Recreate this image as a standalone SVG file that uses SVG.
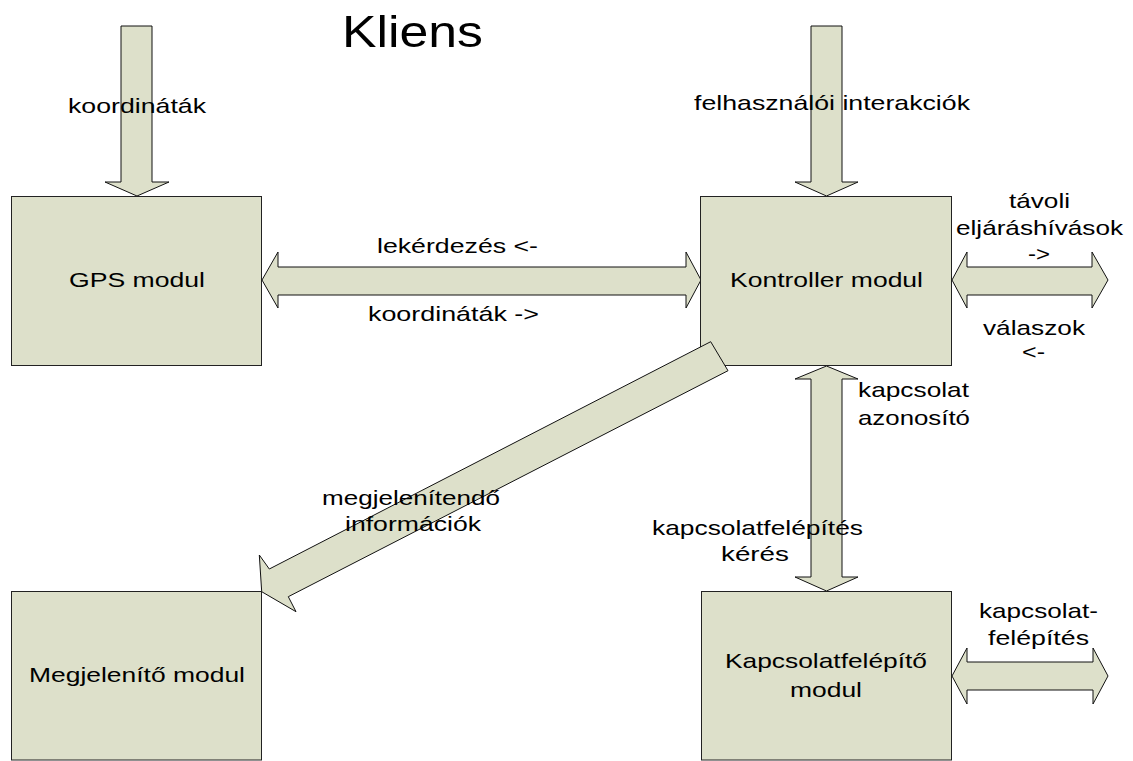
<svg xmlns="http://www.w3.org/2000/svg" width="1133" height="761" viewBox="0 0 1133 761">
<style>
.box{fill:#dde0ca;stroke:#222;stroke-width:1}
.arr{fill:#dde0ca;stroke:#111;stroke-width:1;stroke-linejoin:miter}
text{font-family:"Liberation Sans",Arial,sans-serif;font-size:21px;fill:#000}
.title{font-size:45px}
</style>
<rect width="1133" height="761" fill="#fff"/>
<g id="connectors">
<polygon class="arr" points="121,26 152,26 152,182 169,182 137,196 105,182 121,182"/>
<polygon class="arr" points="811,26 842,26 842,182 858,182 826.5,196 795,182 811,182"/>
<polygon class="arr" points="262,280 278,252 278,267 686,267 686,252 701,280 686,308 686,295 278,295 278,308"/>
<polygon class="arr" points="952,280 967,252 967,267 1092,267 1092,252 1108,280 1092,308 1092,295 967,295 967,308"/>
<polygon class="arr" points="826.5,366 858,379 842,379 842,577 858,577 826.5,591 795,577 811,577 811,379 795,379"/>
<polygon class="arr" points="952,676 967,648 967,662 1093,662 1093,648 1108,676 1093,704 1093,690 967,690 967,704"/>
</g>
<g id="gps"><rect class="box" x="11.5" y="196.5" width="250" height="169"/>
<text x="69" y="287" textLength="136" lengthAdjust="spacingAndGlyphs">GPS modul</text></g>
<g id="kontroller"><rect class="box" x="700.5" y="196.5" width="251" height="169"/>
<text x="730" y="287" textLength="193" lengthAdjust="spacingAndGlyphs">Kontroller modul</text></g>
<g id="megjelenito"><rect class="box" x="11.5" y="591.5" width="250" height="168.5"/>
<text x="29" y="682" textLength="216" lengthAdjust="spacingAndGlyphs">Megjelenítő modul</text></g>
<g id="kapcsolatfelepito"><rect class="box" x="701.5" y="591.5" width="250" height="168.5"/>
<text x="725" y="668" textLength="202" lengthAdjust="spacingAndGlyphs">Kapcsolatfelépítő</text>
<text x="790" y="697" textLength="72" lengthAdjust="spacingAndGlyphs">modul</text></g>
<g id="diagonal">
<polygon class="arr" points="710.7,341.7 728,370.7 288.3,596.7 296,611.7 261.7,591.7 259.3,555 269.3,569"/>
</g>
<g id="labels">
<text class="title" x="342" y="47" textLength="141" lengthAdjust="spacingAndGlyphs">Kliens</text>
<text x="68" y="113" textLength="138" lengthAdjust="spacingAndGlyphs">koordináták</text>
<text x="694" y="110" textLength="276" lengthAdjust="spacingAndGlyphs">felhasználói interakciók</text>
<text x="377" y="253" textLength="161" lengthAdjust="spacingAndGlyphs">lekérdezés &lt;-</text>
<text x="368" y="321" textLength="171" lengthAdjust="spacingAndGlyphs">koordináták -&gt;</text>
<text x="1009" y="208" textLength="61" lengthAdjust="spacingAndGlyphs">távoli</text>
<text x="956" y="235" textLength="167" lengthAdjust="spacingAndGlyphs">eljáráshívások</text>
<text x="1028" y="261" textLength="22" lengthAdjust="spacingAndGlyphs">-&gt;</text>
<text x="983" y="335" textLength="102" lengthAdjust="spacingAndGlyphs">válaszok</text>
<text x="1022" y="359" textLength="23" lengthAdjust="spacingAndGlyphs">&lt;-</text>
<text x="858" y="397" textLength="111" lengthAdjust="spacingAndGlyphs">kapcsolat</text>
<text x="858" y="425" textLength="112" lengthAdjust="spacingAndGlyphs">azonosító</text>
<text x="322" y="505" textLength="178" lengthAdjust="spacingAndGlyphs">megjelenítendő</text>
<text x="345" y="531" textLength="136" lengthAdjust="spacingAndGlyphs">információk</text>
<text x="652" y="535" textLength="211" lengthAdjust="spacingAndGlyphs">kapcsolatfelépítés</text>
<text x="721" y="561" textLength="68" lengthAdjust="spacingAndGlyphs">kérés</text>
<text x="979" y="618" textLength="119" lengthAdjust="spacingAndGlyphs">kapcsolat-</text>
<text x="988" y="645" textLength="101" lengthAdjust="spacingAndGlyphs">felépítés</text>
</g>
</svg>
